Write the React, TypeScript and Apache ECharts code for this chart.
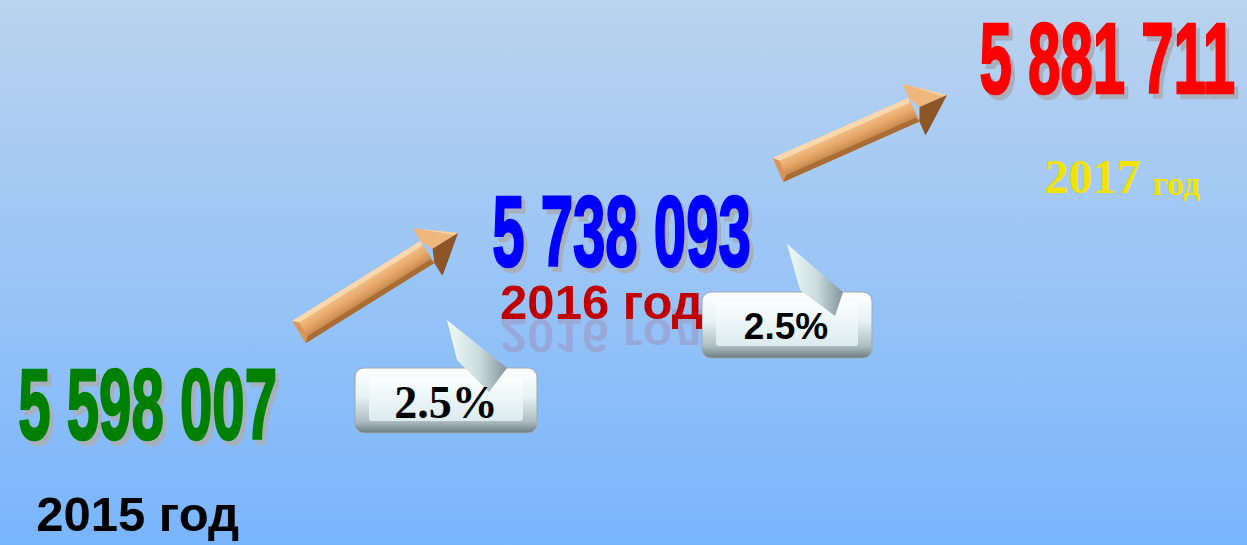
import React, { useEffect, useRef } from "react";
import * as echarts from "echarts";

// ---- data ----
const years = ["2015", "2016", "2017"];
const population = [5598007, 5738093, 5881711];
const growth = ["2.5%", "2.5%"];
const yearSuffix = "год";

// ---- styles ----
const SANS = '"Liberation Sans", Arial, Helvetica, sans-serif';
const SERIF = '"Liberation Serif", "Times New Roman", serif';
const numberColors = ["#008000", "#0000ff", "#ff0000"];
const yearLabelStyles = [
  { color: "#000000", ghost: "rgba(0,0,0,0.1)", family: SANS, size: 49, suffixSize: 49, dx: -10, dy: 111, reflect: false },
  { color: "#c00000", ghost: "rgba(192,0,0,0.13)", family: SANS, size: 49, suffixSize: 49, dx: -20, dy: 72, reflect: true },
  { color: "#f2e300", ghost: "rgba(242,227,0,0.1)", family: SERIF, size: 48, suffixSize: 34, dx: 15, dy: 119, reflect: false },
];

const fmt = (v: number) => String(v).replace(/\B(?=(\d{3})+(?!\d))/g, " ");

function txt(extra: any) {
  return {
    align: "center",
    textAlign: "center",
    verticalAlign: "middle",
    textVerticalAlign: "middle",
    ...extra,
  };
}

function makeArrow(x1: number, y1: number, x2: number, y2: number) {
  const L = Math.hypot(x2 - x1, y2 - y1);
  const rot = Math.atan2(y1 - y2, x2 - x1);
  const w = 13, hw = 28, hl = 36, b = 5;
  const s = L - hl;
  return {
    type: "group",
    x: x1,
    y: y1,
    rotation: rot,
    silent: true,
    children: [
      {
        type: "polygon",
        shape: { points: [[0, -w], [s, -w], [s, w], [0, w]] },
        style: {
          fill: new echarts.graphic.LinearGradient(0, 0, 0, 1, [
            { offset: 0, color: "#f6c994" },
            { offset: 0.5, color: "#e6a769" },
            { offset: 1, color: "#b57a3f" },
          ]),
        },
      },
      { type: "polygon", shape: { points: [[0, -w], [s, -w], [s - 2, -w + b], [b, -w + b]] }, style: { fill: "#f9d8ad" } },
      { type: "polygon", shape: { points: [[b, w - b], [s - 2, w - b], [s, w], [0, w]] }, style: { fill: "#a96c34" } },
      { type: "polygon", shape: { points: [[0, -w], [b, -w + b], [b, w - b], [0, w]] }, style: { fill: "#d8955a" } },
      { type: "polygon", shape: { points: [[s, -hw], [L, 0], [s + 6, 0], [s, -w]] }, style: { fill: "#eeb77c" } },
      { type: "polygon", shape: { points: [[s, -hw], [s + 5, -hw + 4], [L - 4, 0], [L, 0]] }, style: { fill: "#f7d3a4" } },
      { type: "polygon", shape: { points: [[s + 6, 0], [L, 0], [s, hw], [s, w]] }, style: { fill: "#8e5526" } },
      { type: "polygon", shape: { points: [[L, 0], [s + 3, hw - 3], [s, hw]] }, style: { fill: "#6a3c18" } },
    ],
  };
}

function makeCallout(
  box: { x: number; y: number; w: number; h: number },
  pointer: number[][],
  label: string,
  tx: number,
  ty: number,
  family: string,
  size: number
) {
  return {
    type: "group",
    silent: true,
    children: [
      {
        type: "rect",
        shape: { x: box.x, y: box.y, width: box.w, height: box.h, r: 9 },
        style: {
          fill: new echarts.graphic.LinearGradient(0, 0, 0, 1, [
            { offset: 0, color: "#ffffff" },
            { offset: 0.45, color: "#e6f2f4" },
            { offset: 0.82, color: "#aebdc1" },
            { offset: 1, color: "#6c7c81" },
          ]),
          stroke: "#9aabb0",
          lineWidth: 1,
        },
      },
      {
        type: "rect",
        shape: { x: box.x + 14, y: box.y + 10, width: box.w - 28, height: box.h - 22, r: 3 },
        style: {
          fill: new echarts.graphic.LinearGradient(0, 0, 0, 1, [
            { offset: 0, color: "#fbffff" },
            { offset: 1, color: "#dcebee" },
          ]),
        },
      },
      {
        type: "polygon",
        shape: { points: pointer },
        style: {
          fill: new echarts.graphic.LinearGradient(0, 0, 1, 0, [
            { offset: 0, color: "#f2fafa" },
            { offset: 0.55, color: "#c9dadc" },
            { offset: 1, color: "#82959a" },
          ]),
        },
      },
      {
        type: "text",
        x: tx,
        y: ty,
        style: txt({ text: label, x: 0, y: 0, fill: "#000000", fontFamily: family, fontWeight: "bold", fontSize: size }),
      },
    ],
  };
}

export default function App() {
  const ref = useRef<HTMLDivElement>(null);

  useEffect(() => {
    document.body.style.margin = "0";
    if (!ref.current) return;
    const chart = echarts.init(ref.current, null, { renderer: "svg" });

    const numScaleX = 0.576;

    const option: any = {
      animation: false,
      backgroundColor: new echarts.graphic.LinearGradient(0, 0, 0, 1, [
        { offset: 0, color: "#bad3ee" },
        { offset: 0.5, color: "#9ac5f6" },
        { offset: 1, color: "#79b5fd" },
      ]),
      grid: { left: 0, right: 0, top: 57, bottom: 142 },
      xAxis: { type: "value", min: 5554361, max: 5923000, show: false },
      yAxis: { type: "category", data: years, boundaryGap: false, show: false },
      graphic: [
        makeArrow(299, 332, 458, 233),
        makeArrow(778, 170, 947, 95),
        makeCallout({ x: 355, y: 368, w: 182, h: 65 }, [[447, 320], [507, 368], [489, 392], [457, 360]], growth[0], 446, 402, SERIF, 46),
        makeCallout({ x: 702, y: 292, w: 170, h: 66 }, [[787, 244], [843, 292], [835, 316], [800, 290]], growth[1], 786, 326, SANS, 37),
      ],
      series: [
        {
          type: "custom",
          coordinateSystem: "cartesian2d",
          silent: true,
          clip: false,
          data: population.map((v, i) => [v, i]),
          renderItem: (params: any, api: any) => {
            const i = params.dataIndex;
            const p = api.coord([api.value(0), api.value(1)]);
            const text = fmt(population[i]);
            const numFont = { fontFamily: SANS, fontWeight: "bold", fontSize: 101 };
            const ys = yearLabelStyles[i];
            const lx = p[0] + ys.dx;
            const ly = p[1] + ys.dy;
            const children: any[] = [
              {
                type: "text",
                x: p[0] + 4,
                y: p[1] + 5,
                scaleX: numScaleX,
                style: txt({ text, x: 0, y: 0, ...numFont, fill: "#a7b0bd", stroke: "#a7b0bd", lineWidth: 2.5 }),
              },
              {
                type: "text",
                x: p[0],
                y: p[1],
                scaleX: numScaleX,
                style: txt({ text, x: 0, y: 0, ...numFont, fill: numberColors[i], stroke: numberColors[i], lineWidth: 2.5 }),
              },
            ];
            if (ys.size === ys.suffixSize) {
              const label = years[i] + " " + yearSuffix;
              const f = { fontFamily: ys.family, fontWeight: "bold", fontSize: ys.size };
              if (ys.reflect) {
                children.push({
                  type: "text",
                  x: lx,
                  y: ly + 0.69 * ys.size,
                  scaleY: -1,
                  style: txt({ text: label, x: 0, y: 0, ...f, fill: ys.ghost }),
                });
              }
              children.push({ type: "text", x: lx, y: ly, style: txt({ text: label, x: 0, y: 0, ...f, fill: ys.color }) });
            } else {
              children.push({
                type: "text",
                x: lx,
                y: ly,
                style: txt({
                  text: "{a|" + years[i] + "} {b|" + yearSuffix + "}",
                  x: 0,
                  y: 0,
                  fill: ys.color,
                  fontFamily: ys.family,
                  fontWeight: "bold",
                  fontSize: ys.size,
                  rich: {
                    a: { fontFamily: ys.family, fontWeight: "bold", fontSize: ys.size, fill: ys.color, color: ys.color, verticalAlign: "bottom", lineHeight: ys.size },
                    b: { fontFamily: ys.family, fontWeight: "bold", fontSize: ys.suffixSize, fill: ys.color, color: ys.color, verticalAlign: "bottom", lineHeight: ys.size },
                  },
                }),
              });
            }
            return { type: "group", children };
          },
        },
      ],
    };

    chart.setOption(option);
    return () => chart.dispose();
  }, []);

  return <div ref={ref} style={{ position: "fixed", left: 0, top: 0, width: 1247, height: 545 }} />;
}
